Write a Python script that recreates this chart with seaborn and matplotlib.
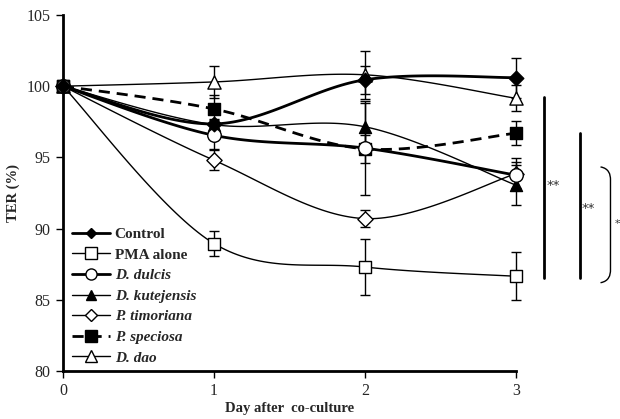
import numpy as np
import pandas as pd
import matplotlib
matplotlib.use("Agg")
import matplotlib.pyplot as plt
from matplotlib.lines import Line2D
from matplotlib.path import Path
from matplotlib.patches import PathPatch
import seaborn as sns

# ---- data: TER (% of day 0) over days of co-culture ----
days = [0, 1, 2, 3]
series_names = ["Control", "PMA alone", "D. dulcis", "D. kutejensis",
                "P. timoriana", "P. speciosa", "D. dao"]
control = [100.0, 97.35, 100.45, 100.6]
control_err = [0.0, 0.3, 1.0, 1.4]
pma_alone = [100.0, 88.95, 87.3, 86.65]
pma_alone_err = [0.0, 0.85, 1.95, 1.7]
d_dulcis = [100.0, 96.55, 95.65, 93.75]
d_dulcis_err = [0.0, 0.95, 3.3, 0.9]
d_kutejensis = [100.0, 97.3, 97.15, 93.05]
d_kutejensis_err = [0.0, 0.4, 1.7, 1.4]
p_timoriana = [100.0, 94.8, 90.7, 93.85]
p_timoriana_err = [0.0, 0.7, 0.6, 1.1]
p_speciosa = [100.0, 98.4, 95.6, 96.7]
p_speciosa_err = [0.0, 0.95, 1.0, 0.85]
d_dao = [100.0, 100.3, 100.8, 99.15]
d_dao_err = [0.0, 1.1, 1.7, 0.9]

values = [control, pma_alone, d_dulcis, d_kutejensis, p_timoriana, p_speciosa, d_dao]
errors = [control_err, pma_alone_err, d_dulcis_err, d_kutejensis_err,
          p_timoriana_err, p_speciosa_err, d_dao_err]

# per-series drawing style: marker, filled, line width, dash, marker sizes
styles = {
    "Control":       dict(marker="D", filled=True,  lw=2.0, ls="-",  ms=55, lms=5),
    "PMA alone":     dict(marker="s", filled=False, lw=1.0, ls="-",  ms=80, lms=8),
    "D. dulcis":     dict(marker="o", filled=False, lw=2.0, ls="-",  ms=95, lms=8),
    "D. kutejensis": dict(marker="^", filled=True,  lw=1.0, ls="-",  ms=75, lms=7),
    "P. timoriana":  dict(marker="D", filled=False, lw=1.0, ls="-",  ms=60, lms=6),
    "P. speciosa":   dict(marker="s", filled=True,  lw=2.0, ls=(0, (4, 2.5)), ms=75, lms=8),
    "D. dao":        dict(marker="^", filled=False, lw=1.0, ls="-",  ms=90, lms=8),
}

sns.set_style("ticks")
plt.rcParams["font.family"] = ["Liberation Serif", "DejaVu Serif"]

fig = plt.figure(figsize=(6.2, 4.19), dpi=100)
ax = fig.add_axes([0.1016, 0.1146, 0.7306, 0.8496])


def smooth_curve(xs, ys, n=40):
    """Bezier-smoothed path through the points (Excel-style smoothed line)."""
    pts = np.column_stack([np.asarray(xs, float), np.asarray(ys, float)])
    out = [pts[0]]
    for i in range(len(pts) - 1):
        p0 = pts[i - 1] if i > 0 else pts[i]
        p1, p2 = pts[i], pts[i + 1]
        p3 = pts[i + 2] if i + 2 < len(pts) else pts[i + 1]
        c1 = p1 + (p2 - p0) / 6.0
        c2 = p2 - (p3 - p1) / 6.0
        t = np.linspace(0, 1, n)[1:, None]
        seg = ((1 - t) ** 3) * p1 + 3 * ((1 - t) ** 2) * t * c1 \
            + 3 * (1 - t) * t ** 2 * c2 + t ** 3 * p2
        out.extend(seg)
    out = np.array(out)
    return out[:, 0], out[:, 1]


df = pd.DataFrame({
    "day": np.tile(days, len(series_names)),
    "ter": np.concatenate(values),
    "err": np.concatenate(errors),
    "group": np.repeat(series_names, len(days)),
})

draw_order = ["PMA alone", "P. timoriana", "D. kutejensis", "D. dao",
              "P. speciosa", "D. dulcis", "Control"]

for z, name in enumerate(draw_order):
    sub = df[df["group"] == name]
    st = styles[name]
    ax.errorbar(sub["day"], sub["ter"], yerr=sub["err"], fmt="none",
                ecolor="black", elinewidth=1.0, capsize=3.5, capthick=1.0,
                zorder=2 + z * 0.1, clip_on=False)
    sx, sy = smooth_curve(sub["day"].values, sub["ter"].values)
    ax.plot(sx, sy, color="black", lw=st["lw"], ls=st["ls"],
            zorder=3 + z * 0.1, clip_on=False)

for z, name in enumerate(draw_order):
    sub = df[df["group"] == name]
    st = styles[name]
    sns.scatterplot(data=sub, x="day", y="ter", marker=st["marker"], s=st["ms"],
                    color="black" if st["filled"] else "white",
                    edgecolor="black", linewidth=1.0, ax=ax,
                    zorder=5 + z * 0.1, clip_on=False, legend=False)

ax.set_xlim(0, 3)
ax.set_ylim(80, 105)
ax.set_xticks(days)
ax.set_yticks([80, 85, 90, 95, 100, 105])
sns.despine(ax=ax)
for side in ("left", "bottom"):
    ax.spines[side].set_linewidth(2.0)
    ax.spines[side].set_color("black")
ax.tick_params(axis="both", direction="out", length=5, width=1.0,
               color="black", labelsize=11.5, pad=4)
ax.set_xlabel("Day after  co-culture", fontsize=10.5, fontweight="bold")
ax.set_ylabel("TER (%)", fontsize=10.5, fontweight="bold")
ax.xaxis.set_label_coords(0.5, -0.088)
ax.yaxis.set_label_coords(-0.095, 0.5)

# legend
handles = []
for name in series_names:
    st = styles[name]
    handles.append(Line2D([0], [0], color="black", lw=st["lw"], ls=st["ls"],
                          marker=st["marker"], markersize=st["lms"],
                          markerfacecolor="black" if st["filled"] else "white",
                          markeredgecolor="black", markeredgewidth=1.0))
leg = ax.legend(handles, series_names, loc="lower left",
                bbox_to_anchor=(-0.004, -0.012), frameon=False,
                handlelength=2.5, handletextpad=0.3, labelspacing=0.45,
                borderaxespad=0.3,
                prop={"size": 11, "weight": "bold"})
for txt in leg.get_texts():
    if txt.get_text() not in ("Control", "PMA alone"):
        txt.set_fontstyle("italic")

# significance markers at the right of the plot
tr = ax.transData
ax.plot([3.184, 3.184], [99.26, 86.55], color="black", lw=2.0, transform=tr,
        clip_on=False)
ax.plot([3.422, 3.422], [96.73, 86.55], color="black", lw=2.0, transform=tr,
        clip_on=False)
ax.text(3.200, 93.0, "**", fontsize=9.5, ha="left", va="center", transform=tr,
        clip_on=False, family=["DejaVu Sans"], color="#333333")
ax.text(3.437, 91.4, "**", fontsize=9.5, ha="left", va="center", transform=tr,
        clip_on=False, family=["DejaVu Sans"], color="#333333")

bx0, bx1, btop, bbot = 3.56, 3.626, 94.33, 86.2
r = 0.9
verts = [(bx0, btop), (bx1 - 0.01, btop - 0.1), (bx1, btop - r * 0.6), (bx1, btop - r),
         (bx1, bbot + r), (bx1, bbot + r * 0.6), (bx1 - 0.01, bbot + 0.1), (bx0, bbot)]
codes = [Path.MOVETO, Path.CURVE4, Path.CURVE4, Path.CURVE4,
         Path.LINETO, Path.CURVE4, Path.CURVE4, Path.CURVE4]
ax.add_patch(PathPatch(Path(verts, codes), fill=False, lw=1.0, ec="black",
                       transform=tr, clip_on=False))
ax.text(3.655, 90.3, "**", fontsize=7, ha="left", va="center", transform=tr,
        clip_on=False, family=["DejaVu Sans"], color="#333333")

fig.savefig("out.png", dpi=100)
